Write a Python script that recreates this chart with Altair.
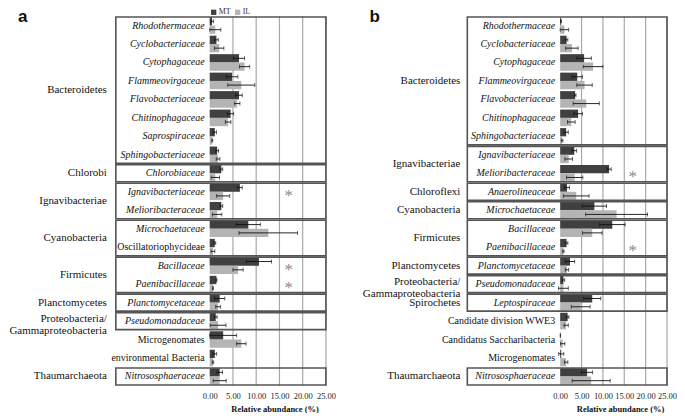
import altair as alt
import pandas as pd

SERIES = ["MT", "IL"]
COLORS = ["#404040", "#b4b4b4"]
TICKS = [0, 5, 10, 15, 20, 25]
GRID = [5, 10, 15, 20, 25]
SIG_X = 17

# ---------------- panel a ----------------
A_NAMES = ["Rhodothermaceae", "Cyclobacteriaceae", "Cytophagaceae", "Flammeovirgaceae",
           "Flavobacteriaceae", "Chitinophagaceae", "Saprospiraceae", "Sphingobacteriaceae",
           "Chlorobiaceae", "Ignavibacteriaceae", "Melioribacteraceae", "Microchaetaceae",
           "Oscillatoriophycideae", "Bacillaceae", "Paenibacillaceae", "Planctomycetaceae",
           "Pseudomonadaceae", "Microgenomates", "environmental Bacteria", "Nitrososphaeraceae"]
A_ITALIC = [1, 1, 1, 1, 1, 1, 1, 1, 1, 1, 1, 1, 0, 1, 1, 1, 1, 0, 0, 1]
A_MT = [0.5, 1.45, 6.3, 4.8, 6.3, 4.5, 1.1, 1.6, 2.5, 6.5, 2.5, 8.3, 1.1, 10.6, 1.45, 2.15, 1.3, 2.9, 1.1, 2.15]
A_MT_ERR = [0.3, 0.4, 1.2, 1.25, 0.7, 0.65, 0.35, 0.3, 0.3, 0.5, 0.3, 2.6, 0.2, 2.7, 0.1, 1.1, 0.3, 2.9, 0.4, 0.6]
A_IL = [1.2, 2.05, 7.5, 6.8, 5.9, 3.95, 0.55, 1.8, 1.2, 2.9, 1.6, 12.6, 0.7, 6.1, 0.7, 1.8, 1.8, 6.8, 0.7, 2.15]
A_IL_ERR = [1.2, 1.0, 1.1, 2.9, 0.6, 0.6, 0.1, 0.4, 0.9, 1.4, 1.0, 6.3, 0.4, 1.1, 0.1, 0.5, 1.7, 1.0, 0.15, 1.4]
A_SIG = [9, 13, 14]
A_PHYLA = ["Bacteroidetes", "Chlorobi", "Ignavibacteriae", "Cyanobacteria", "Firmicutes",
           "Planctomycetes", "Proteobacteria/\nGammaproteobacteria", "Thaumarchaeota"]
A_FIRST = [0, 8, 9, 11, 13, 15, 16, 19]
A_LAST = [7, 8, 10, 12, 14, 15, 16, 19]

# ---------------- panel b ----------------
B_NAMES = ["Rhodothermaceae", "Cyclobacteriaceae", "Cytophagaceae", "Flammeovirgaceae",
           "Flavobacteriaceae", "Chitinophagaceae", "Sphingobacteriaceae", "Ignavibacteriaceae",
           "Melioribacteraceae", "Anaerolineaceae", "Microchaetaceae", "Bacillaceae",
           "Paenibacillaceae", "Planctomycetaceae", "Pseudomonadaceae", "Leptospiraceae",
           "Candidate division WWE3", "Candidatus Saccharibacteria", "Microgenomates",
           "Nitrososphaeraceae"]
B_ITALIC = [1, 1, 1, 1, 1, 1, 1, 1, 1, 1, 1, 1, 1, 1, 1, 1, 0, 0, 0, 1]
B_MT = [0.2, 1.5, 5.6, 4.0, 3.5, 4.2, 1.4, 3.3, 11.45, 1.6, 8.0, 12.2, 1.5, 2.3, 0.75, 7.5, 1.75, 0.05, 0.25, 6.3]
B_MT_ERR = [0.1, 0.3, 1.7, 1.2, 0.2, 1.0, 0.5, 0.55, 0.5, 0.6, 2.85, 3.0, 0.3, 1.1, 0.3, 2.0, 0.3, 0.05, 0.6, 1.3]
B_IL = [1.0, 2.75, 7.7, 5.7, 6.1, 2.6, 0.45, 2.0, 3.4, 3.75, 13.2, 7.5, 0.75, 1.6, 0.75, 4.8, 1.4, 0.6, 1.4, 7.25]
B_IL_ERR = [1.0, 1.45, 2.3, 1.8, 3.05, 0.9, 0.2, 0.9, 1.9, 3.0, 7.25, 2.3, 0.15, 0.4, 1.15, 2.2, 0.5, 0.5, 0.4, 4.45]
B_SIG = [8, 12]
B_PHYLA = ["Bacteroidetes", "Ignavibacteriae", "Chloroflexi", "Cyanobacteria", "Firmicutes",
           "Planctomycetes", "Proteobacteria/\nGammaproteobacteria", "Spirochetes", "Thaumarchaeota"]
B_FIRST = [0, 7, 9, 10, 11, 13, 14, 15, 19]
B_LAST = [6, 8, 9, 10, 12, 13, 14, 15, 19]

HEIGHT = 370
SERIF = "Liberation Serif"
SANS = "Liberation Sans"


def panel(letter, names, italic, mt, mt_err, il, il_err, sig, phyla, first, last,
          left_px, zero_px, end_px, box_px, phy_px, title_px, letter_px, legend_dx):
    n = len(names)
    W = end_px - left_px
    ppu = (end_px - zero_px) / 25.0
    xmin = -(zero_px - left_px) / ppu

    def d(px):
        return (px - zero_px) / ppu

    XS = alt.Scale(domain=[xmin, 25], nice=False, zero=False)
    YS = alt.Scale(domain=[-0.5, n - 0.5], reverse=True, nice=False, zero=False)
    XAX = alt.Axis(values=TICKS, format=".2f", grid=False, ticks=False, domain=False,
                   labelFont=SERIF, labelFontSize=8.5, labelColor="#222", labelPadding=6,
                   labelOverlap=False, labelFlush=False,
                   title="Relative abundance (%)", titleFont=SERIF, titleFontSize=8.5,
                   titleFontWeight="bold", titleColor="#111", titleX=title_px,
                   titleAlign="center", titlePadding=4)

    def X(f):
        return alt.X(f, type="quantitative", scale=XS, axis=XAX)

    def Y(f):
        return alt.Y(f, type="quantitative", scale=YS, axis=None)

    grid = alt.Chart(pd.DataFrame({"g": GRID})).mark_rule(
        color="#a8a8a8", strokeWidth=1.2).encode(x=X("g"))

    rows = []
    for i in range(n):
        rows.append({"idx": i, "series": "MT", "value": mt[i], "err": mt_err[i]})
        rows.append({"idx": i, "series": "IL", "value": il[i], "err": il_err[i]})
    base = alt.Chart(pd.DataFrame(rows)).transform_calculate(
        top="datum.idx + (datum.series == 'MT' ? -0.45 : 0)",
        bot="datum.idx + (datum.series == 'MT' ? 0 : 0.45)",
        mid="datum.idx + (datum.series == 'MT' ? -0.225 : 0.225)",
        lo="datum.value - datum.err",
        hi="datum.value + datum.err",
        zero="0",
    )
    bars = base.mark_rect().encode(
        x=X("zero:Q"), x2="value:Q", y=Y("top"), y2="bot:Q",
        color=alt.Color("series:N", scale=alt.Scale(domain=SERIES, range=COLORS),
                        legend=alt.Legend(orient="none", legendX=legend_dx, legendY=-8,
                                          direction="horizontal", title=None,
                                          symbolType="square", symbolSize=28,
                                          symbolStrokeWidth=0, labelFont=SERIF,
                                          labelFontSize=8, labelColor="#333",
                                          labelOffset=1, columnPadding=3, padding=0)),
    )
    err = base.mark_rule(color="#111", strokeWidth=0.9).encode(
        x=X("lo:Q"), x2="hi:Q", y=Y("mid"))
    caps = base.transform_fold(["lo", "hi"], as_=["end", "xe"]).mark_tick(
        orient="vertical", size=4, thickness=0.9, color="#111").encode(
        x=X("xe:Q"), y=Y("mid"))

    grp = alt.Chart(pd.DataFrame({"phylum": phyla, "first": first, "last": last})).transform_calculate(
        yb0="datum.first - 0.46",
        yb1="datum.last + 0.46",
        yc="(datum.first + datum.last) / 2",
        xb0=str(d(box_px)),
        xb1="25",
        xp=str(d(phy_px)),
    )
    boxes = grp.mark_rect(fill="white", fillOpacity=0, stroke="#555555", strokeWidth=1.6).encode(
        x=X("xb0:Q"), x2="xb1:Q", y=Y("yb0"), y2="yb1:Q")
    phy_one = grp.transform_filter("indexof(datum.phylum, '/') < 0").mark_text(
        align="right", baseline="middle", font=SERIF, fontSize=11, color="#111").encode(
        x=X("xp:Q"), y=Y("yc"), text="phylum:N")
    phy_two = grp.transform_filter("indexof(datum.phylum, '/') >= 0").mark_text(
        align="right", baseline="middle", font=SERIF, fontSize=11, color="#111",
        lineBreak="\n", lineHeight=11.5, dy=-2).encode(
        x=X("xp:Q"), y=Y("yc"), text="phylum:N")

    lab = alt.Chart(pd.DataFrame({"idx": list(range(n)), "name": names, "it": italic})).transform_calculate(
        zero="0")
    lab_it = lab.transform_filter("datum.it == 1").mark_text(
        align="right", baseline="middle", dx=-5, font=SERIF, fontSize=10,
        fontStyle="italic", color="#111").encode(x=X("zero:Q"), y=Y("idx"), text="name:N")
    lab_pl = lab.transform_filter("datum.it == 0").mark_text(
        align="right", baseline="middle", dx=-5, font=SERIF, fontSize=10,
        color="#111").encode(x=X("zero:Q"), y=Y("idx"), text="name:N")

    stars = alt.Chart(pd.DataFrame({"idx": sig})).transform_calculate(
        sx=str(SIG_X), s="'*'").mark_text(
        font=SERIF, fontSize=17, color="#8a8a8a", baseline="middle", dy=4).encode(
        x=X("sx:Q"), y=Y("idx"), text="s:N")

    let = alt.Chart(pd.DataFrame({"t": [letter]})).mark_text(
        font=SANS, fontWeight="bold", fontSize=17, align="left",
        baseline="alphabetic", color="#111").encode(
        x=alt.value(letter_px), y=alt.value(6), text="t:N")

    return alt.layer(grid, bars, err, caps, boxes, phy_one, phy_two, lab_it, lab_pl,
                     stars, let).properties(width=W, height=HEIGHT)


pa = panel("a", A_NAMES, A_ITALIC, A_MT, A_MT_ERR, A_IL, A_IL_ERR, A_SIG, A_PHYLA, A_FIRST, A_LAST,
           left_px=8, zero_px=210, end_px=326.4, box_px=116, phy_px=107, title_px=267,
           letter_px=10, legend_dx=202)
pb = panel("b", B_NAMES, B_ITALIC, B_MT, B_MT_ERR, B_IL, B_IL_ERR, B_SIG, B_PHYLA, B_FIRST, B_LAST,
           left_px=345, zero_px=560, end_px=667, box_px=467, phy_px=460, title_px=275,
           letter_px=24, legend_dx=215)

chart = alt.hconcat(pa, pb, spacing=19, bounds="flush").properties(
    padding={"left": 0, "top": 0, "right": 0, "bottom": 0},
    background="white",
).configure_view(strokeWidth=0)

chart.save("out.html", embed_options={"renderer": "svg", "actions": False})
